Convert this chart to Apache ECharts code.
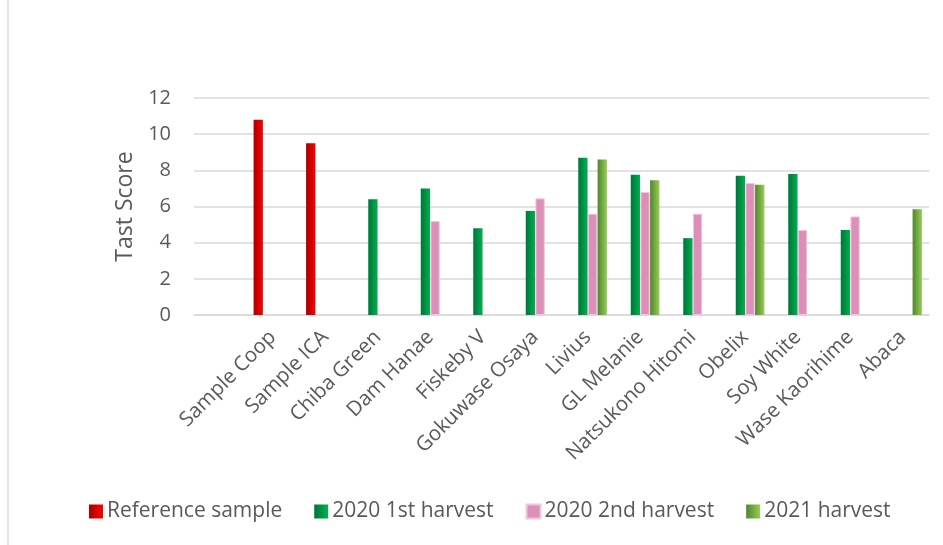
<!DOCTYPE html>
<html>
<head>
<meta charset="utf-8">
<script src="https://cdn.jsdelivr.net/npm/echarts@6/dist/echarts.min.js"></script>
<style>
  html, body { margin: 0; padding: 0; background: #ffffff; }
  #chart { width: 943px; height: 545px; }
</style>
</head>
<body>
<div id="chart"></div>
<script>
// Soybean varieties (first slot is an empty spacer category)
const categories = ['', 'Sample Coop', 'Sample ICA', 'Chiba Green', 'Dam Hanae', 'Fiskeby V',
  'Gokuwase Osaya', 'Livius', 'GL Melanie', 'Natsukono Hitomi', 'Obelix', 'Soy White',
  'Wase Kaorihime', 'Abaca'];

// Taste scores per series (null = not tested)
const referenceSample = [null, 10.8, 9.5, null, null, null, null, null, null, null, null, null, null, null];
const harvest2020First = [null, null, null, 6.4, 7.0, 4.8, 5.75, 8.7, 7.75, 4.25, 7.7, 7.8, 4.7, null];
const harvest2020Second = [null, null, null, null, 5.2, null, 6.45, 5.6, 6.8, 5.6, 7.3, 4.7, 5.45, null];
const harvest2021 = [null, null, null, null, null, null, null, 8.6, 7.45, null, 7.2, null, null, 5.85];

const yTicks = { min: 0, max: 12, interval: 2 };

const textColor = '#595959';
const gridColor = '#d9d9d9';
const fontFamily = '"Open Sans", "Noto Sans", sans-serif';

function hGrad(c0, c1) {
  return new echarts.graphic.LinearGradient(0, 0, 1, 0, [
    { offset: 0, color: c0 },
    { offset: 1, color: c1 }
  ]);
}

const chart = echarts.init(document.getElementById('chart'), null, { renderer: 'canvas' });

const barCommon = {
  type: 'bar',
  barCategoryGap: '27%',
  barGap: '4%'
};

chart.setOption({
  animation: false,
  backgroundColor: '#ffffff',
  textStyle: { fontFamily: fontFamily, color: textColor },
  graphic: [{
    type: 'line',
    shape: { x1: 8, y1: 0, x2: 8, y2: 545 },
    style: { stroke: gridColor, lineWidth: 1.5 },
    silent: true
  }],
  grid: { left: 194, right: 14, top: 98, bottom: 230, containLabel: false },
  legend: {
    left: 84,
    top: 496,
    itemWidth: 14,
    itemHeight: 14,
    itemGap: 32,
    icon: 'rect',
    textStyle: { fontSize: 21, color: textColor, fontFamily: fontFamily, padding: [0, 0, 0, -1] },
    data: ['Reference sample', '2020 1st harvest', '2020 2nd harvest', '2021 harvest']
  },
  xAxis: {
    type: 'category',
    data: categories,
    axisLine: { show: true, lineStyle: { color: gridColor, width: 1.5 } },
    axisTick: { show: false },
    axisLabel: {
      interval: 0,
      rotate: 45,
      margin: 19,
      fontSize: 20.5,
      color: textColor,
      fontFamily: fontFamily
    }
  },
  yAxis: {
    type: 'value',
    min: yTicks.min,
    max: yTicks.max,
    interval: yTicks.interval,
    name: 'Tast Score',
    nameLocation: 'middle',
    nameGap: 57,
    nameRotate: 90,
    nameTextStyle: { fontSize: 23, color: textColor, fontFamily: fontFamily },
    axisLine: { show: false },
    axisTick: { show: false },
    axisLabel: { fontSize: 20, margin: 23, color: textColor, fontFamily: fontFamily },
    splitLine: { lineStyle: { color: gridColor, width: 1.5 } }
  },
  series: [
    Object.assign({}, barCommon, {
      name: 'Reference sample',
      data: referenceSample,
      itemStyle: { color: hGrad('#a80000', '#ff0000') }
    }),
    Object.assign({}, barCommon, {
      name: '2020 1st harvest',
      data: harvest2020First,
      itemStyle: { color: hGrad('#00743a', '#00b050') }
    }),
    Object.assign({}, barCommon, {
      name: '2020 2nd harvest',
      data: harvest2020Second,
      itemStyle: { color: '#dc8fb8', borderColor: '#f1c6dc', borderWidth: 1 }
    }),
    Object.assign({}, barCommon, {
      name: '2021 harvest',
      data: harvest2021,
      itemStyle: { color: hGrad('#548235', '#92d050') }
    })
  ]
});
</script>
</body>
</html>
